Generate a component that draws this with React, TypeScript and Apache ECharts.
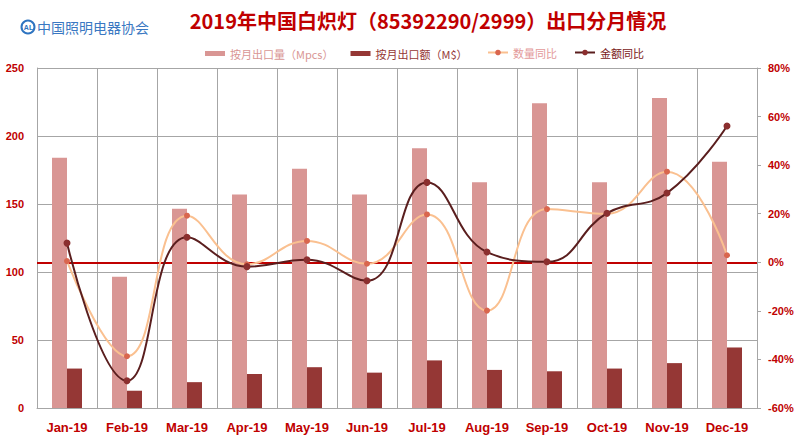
import React, { useEffect, useRef } from "react";
import * as echarts from "echarts";

const months = ["Jan-19", "Feb-19", "Mar-19", "Apr-19", "May-19", "Jun-19", "Jul-19", "Aug-19", "Sep-19", "Oct-19", "Nov-19", "Dec-19"];
const volume = [184, 96.5, 146.5, 157, 176, 157, 191, 166, 224, 166, 228, 181];
const amount = [29, 12.7, 19, 25, 30, 26, 35, 28, 27, 29, 33, 44.5];
const volumeYoY = [0.5, -38.7, 19.2, -0.8, 8.8, -0.6, 19.7, -19.9, 21.9, 20, 37.3, 2.9];
const amountYoY = [7.9, -48.8, 10.3, -1.8, 1, -7.6, 32.9, 4.2, 0.2, 20.2, 28.5, 56.1];
const leftTicks = { min: 0, max: 250, interval: 50 };
const rightTicks = { min: -60, max: 80, interval: 20 };

const RED = "#C00000";
const GRID = "#A6A6A6";
const FONT = "'Liberation Sans', Arial, sans-serif";
const CJK = "'Noto Sans CJK SC', 'Noto Sans', sans-serif";

export default function App() {
  const ref = useRef<HTMLDivElement>(null);
  useEffect(() => {
    if (!ref.current) return;
    const chart = echarts.init(ref.current, null, { renderer: "svg" });
    chart.setOption({
      animation: false,
      backgroundColor: "#ffffff",
      graphic: [
        {
          type: "circle",
          shape: { cx: 28, cy: 27, r: 6.5 },
          style: { fill: "#ffffff", stroke: "#2E74C0", lineWidth: 2 },
        },
        {
          type: "text",
          x: 28.5,
          y: 27.5,
          style: { text: "AL", fill: "#2E74C0", font: `bold 7px ${FONT}`, textAlign: "center", textVerticalAlign: "middle" },
        },
        {
          type: "text",
          x: 37,
          y: 27,
          style: { text: "中国照明电器协会", fill: "#3A78C2", font: `14px ${CJK}`, textVerticalAlign: "middle" },
        },
        {
          type: "text",
          x: 428,
          y: 20,
          style: {
            text: "2019年中国白炽灯（85392290/2999）出口分月情况",
            fill: RED,
            font: `bold 20px ${CJK}`,
            textAlign: "center",
            textVerticalAlign: "middle",
          },
        },
      ],
      legend: [
        {
          left: 200,
          top: 43,
          itemWidth: 20,
          itemHeight: 5,
          itemGap: 17,
          icon: "rect",
          textStyle: { fontFamily: CJK, fontSize: 11 },
          data: [
            { name: "按月出口量（Mpcs）", textStyle: { color: "#D99694" } },
            { name: "按月出口额（M$）", textStyle: { color: "#953735" } },
          ],
        },
        {
          left: 482,
          top: 42,
          itemWidth: 20,
          itemHeight: 7,
          itemGap: 17,
          textStyle: { fontFamily: CJK, fontSize: 11 },
          data: [
            { name: "数量同比", textStyle: { color: "#E39A9A" } },
            { name: "金额同比", textStyle: { color: "#7A2020" } },
          ],
        },
      ],
      grid: { left: 37, right: 43, top: 68, bottom: 38 },
      xAxis: {
        type: "category",
        data: months,
        boundaryGap: true,
        axisLine: { show: true, lineStyle: { color: GRID, width: 1 } },
        axisTick: { show: false },
        splitLine: { show: true, interval: 0, lineStyle: { color: GRID, width: 1 } },
        axisLabel: { color: RED, fontFamily: FONT, fontWeight: "bold", fontSize: 13, margin: 13, interval: 0 },
      },
      yAxis: [
        {
          type: "value",
          min: leftTicks.min,
          max: leftTicks.max,
          interval: leftTicks.interval,
          axisLine: { show: true, lineStyle: { color: GRID } },
          axisTick: { show: false },
          splitLine: { show: true, lineStyle: { color: GRID, width: 1 } },
          axisLabel: { color: RED, fontFamily: FONT, fontWeight: "bold", fontSize: 11, margin: 13 },
        },
        {
          type: "value",
          position: "right",
          min: rightTicks.min,
          max: rightTicks.max,
          interval: rightTicks.interval,
          axisLine: { show: true, lineStyle: { color: GRID } },
          axisTick: { show: true, length: 4, lineStyle: { color: GRID } },
          splitLine: { show: false },
          axisLabel: { color: RED, fontFamily: FONT, fontWeight: "bold", fontSize: 11, margin: 11, formatter: "{value}%" },
        },
      ],
      series: [
        {
          name: "按月出口量（Mpcs）",
          type: "bar",
          yAxisIndex: 0,
          data: volume,
          barWidth: 15,
          barGap: "0%",
          itemStyle: { color: "#D99694" },
        },
        {
          name: "按月出口额（M$）",
          type: "bar",
          yAxisIndex: 0,
          data: amount,
          barWidth: 15,
          barGap: "0%",
          itemStyle: { color: "#953735" },
        },
        {
          name: "数量同比",
          type: "line",
          yAxisIndex: 1,
          data: volumeYoY,
          smooth: 0.45,
          symbol: "circle",
          symbolSize: 6,
          lineStyle: { color: "#FAC090", width: 2 },
          itemStyle: { color: "#D9664E" },
          z: 3,
        },
        {
          name: "金额同比",
          type: "line",
          yAxisIndex: 1,
          data: amountYoY,
          smooth: 0.45,
          symbol: "circle",
          symbolSize: 7,
          lineStyle: { color: "#5A1E1E", width: 2 },
          itemStyle: { color: "#8B2F2F" },
          z: 4,
          markLine: {
            silent: true,
            symbol: "none",
            label: { show: false },
            lineStyle: { color: RED, width: 2, type: "solid" },
            data: [{ yAxis: 0 }],
            z: 2,
          },
        },
      ],
    });
    return () => chart.dispose();
  }, []);
  return <div ref={ref} style={{ width: 800, height: 446, position: "absolute", left: 0, top: 0 }} />;
}
